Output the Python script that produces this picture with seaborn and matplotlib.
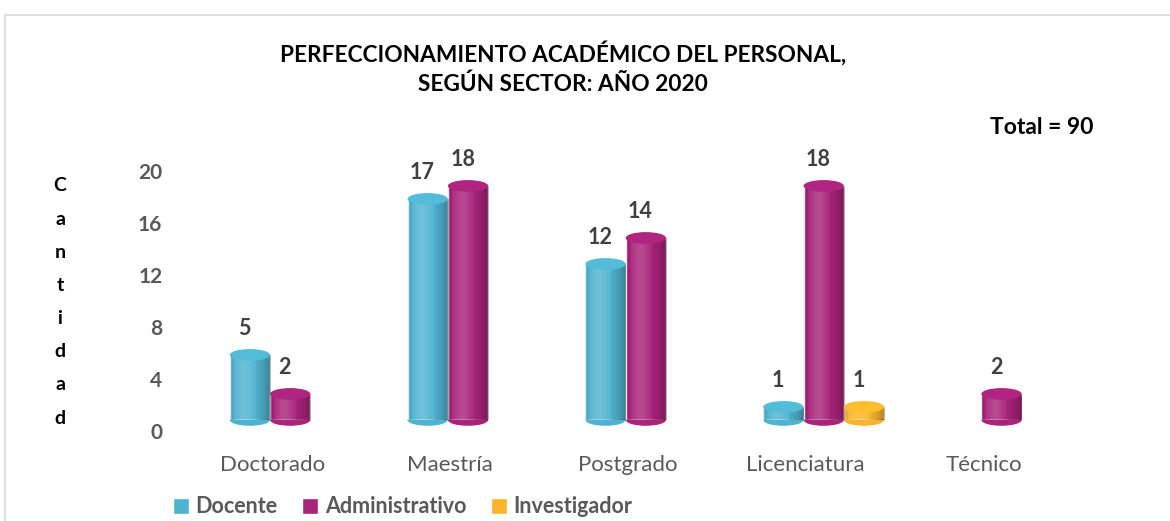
"""
Perfeccionamiento académico del personal, según sector: año 2020.
Barras tipo cilindro (imitando el gráfico 3D de Excel) con seaborn.
"""

import numpy as np
import pandas as pd
import matplotlib.pyplot as plt
import matplotlib.transforms as mtransforms
from matplotlib.patches import Ellipse, Rectangle
import seaborn as sns

categorias = ["Doctorado", "Maestría", "Postgrado", "Licenciatura", "Técnico"]
sectores = ["Docente", "Administrativo", "Investigador"]
docente = [5, 17, 12, 1, 0]
administrativo = [2, 18, 14, 18, 2]
investigador = [0, 0, 0, 1, 0]
colores = ["#4FB3CF", "#A8237A", "#F8B52C"]
y_ticks = [0, 4, 8, 12, 16, 20]
titulo = "PERFECCIONAMIENTO ACADÉMICO DEL PERSONAL,\nSEGÚN SECTOR: AÑO 2020"
total_txt = "Total = 90"
eje_y = "Cantidad"

df = pd.DataFrame({
    "categoria": categorias * 3,
    "sector": np.repeat(sectores, len(categorias)),
    "cantidad": docente + administrativo + investigador,
})

sns.set_theme(style="white")
plt.rcParams["font.family"] = ["Lato", "DejaVu Sans"]

GRIS = "#595959"
fig = plt.figure(figsize=(11.7, 5.21), dpi=100)
ax = fig.add_axes([0.172, 0.194, 0.76, 0.524])

sns.barplot(data=df, x="categoria", y="cantidad", hue="sector",
            palette=colores, width=0.68, saturation=1, ax=ax)
ax.set_ylim(0, 21)
ax.set_xlim(-0.5, 4.5)


def sombra(x0, x1, y0, y1, clip):
    # gradiente horizontal suave para dar volumen de cilindro
    t = np.linspace(0, 1, 80)
    luz = 0.18 * np.exp(-((t - 0.35) / 0.22) ** 2)
    osc = 0.30 * (np.abs(t - 0.38) / 0.62) ** 2.5
    img = np.zeros((1, t.size, 4))
    img[0, :, :3] = np.where(luz[:, None] > osc[:, None], 1.0, 0.0)
    img[0, :, 3] = np.maximum(luz, osc)
    im = ax.imshow(img, extent=[x0, x1, y0, y1], aspect="auto",
                   origin="lower", zorder=3, interpolation="bilinear")
    im.set_clip_path(clip)
    im.set_clip_on(True)


eh = 0.9  # alto de la elipse (unidades de datos)
for cont in ax.containers:
    for bar in cont:
        h = bar.get_height()
        if h <= 0:
            bar.set_visible(False)
            continue
        x0, w = bar.get_x(), bar.get_width()
        cx = x0 + w / 2
        col = bar.get_facecolor()
        bar.set_zorder(2)
        base = Ellipse((cx, 0), w, eh, facecolor=col, edgecolor="none",
                       zorder=1.9, clip_on=False)
        ax.add_patch(base)
        tapa_col = tuple(min(1, c * 1.05) for c in col[:3])
        tapa = Ellipse((cx, h), w, eh, facecolor=tapa_col, edgecolor="none",
                       zorder=4)
        ax.add_patch(tapa)
        sombra(x0, x0 + w, 0, h, bar)
        sombra(x0, x0 + w, -eh / 2, 0.01, base)
        ax.text(cx - 0.03, h + 1.2, f"{int(h)}", ha="center", va="bottom",
                fontsize=15.5, fontweight="bold", color="#404040", zorder=6)

ax.set_xlabel("")
ax.set_ylabel("")
ax.set_yticks(y_ticks)
ax.tick_params(axis="y", length=0, pad=28, labelsize=15, labelcolor=GRIS)
ax.tick_params(axis="x", length=0, pad=25, labelsize=16, labelcolor=GRIS)
for lab in ax.get_yticklabels():
    lab.set_fontweight("bold")
    lab.set_transform(lab.get_transform() +
                      mtransforms.ScaledTranslation(0, -0.11, fig.dpi_scale_trans))
for lab in ax.get_xticklabels():
    lab.set_transform(lab.get_transform() +
                      mtransforms.ScaledTranslation(-0.18, 0, fig.dpi_scale_trans))
sns.despine(ax=ax, left=True, bottom=True)
ax.grid(False)

handles, labels = ax.get_legend_handles_labels()
ax.get_legend().remove()
fig.legend(handles, labels, loc="lower left", bbox_to_anchor=(0.131, -0.03),
           ncol=3, frameon=False, handlelength=0.75, handleheight=0.75,
           handletextpad=0.3, columnspacing=1.15,
           prop={"size": 15.5, "weight": "bold"}, labelcolor=GRIS)

fig.text(0.481, 1 - 68 / 521, titulo, ha="center", va="center",
         fontsize=16.3, fontweight="bold", color="black", linespacing=1.45)
fig.text(1093 / 1170, 1 - 128 / 521, total_txt, ha="right", va="center",
         fontsize=16.5, fontweight="bold", color="black")

ys = np.linspace(1 - 186 / 521, 1 - 418 / 521, len(eje_y))
for letra, y in zip(eje_y, ys):
    fig.text(60 / 1170, y, letra, ha="center", va="center",
             fontsize=14, fontweight="bold", color="black")

fig.patches.append(Rectangle((0.004, -0.1), 1.2, 1.1 - 15 / 521,
                             transform=fig.transFigure, fill=False,
                             edgecolor="#D9D9D9", linewidth=1.2))

fig.savefig("out.png", dpi=100)
